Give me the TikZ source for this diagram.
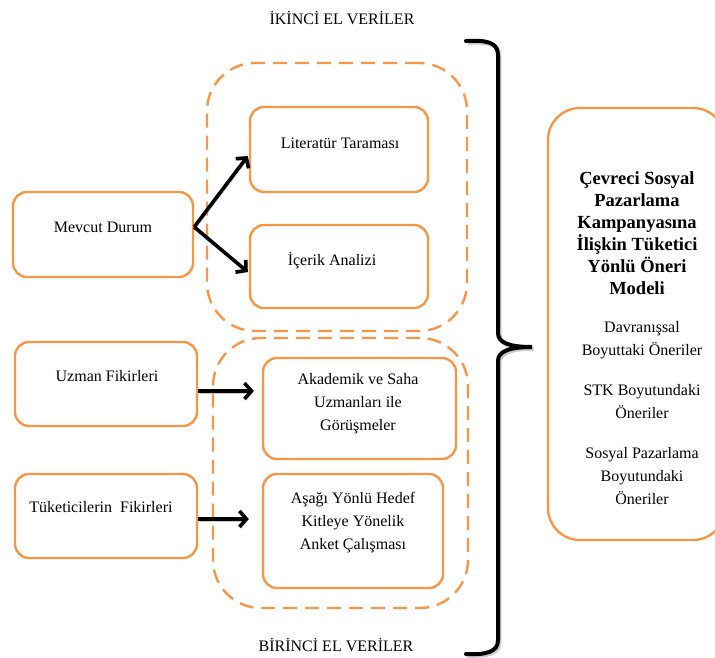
\documentclass[tikz,border=0pt]{standalone}
\usepackage{fontspec}
\setmainfont{Liberation Serif}[Ligatures=TeX]
\newfontfamily\tnr{Liberation Serif}
\usetikzlibrary{arrows.meta,calc}
\definecolor{org}{HTML}{F79646}
\tikzset{
  sbox/.style={draw=org,line width=2.4pt,rounded corners=14pt,inner sep=0pt},
  dbox/.style={draw=org,line width=2.4pt,rounded corners=48pt,dash pattern=on 14pt off 8pt,inner sep=0pt},
  rbx/.style={draw=org,line width=2.4pt,rounded corners=32pt,inner sep=0pt},
  txt/.style={align=center,inner sep=0pt,font=\tnr\fontsize{16}{23}\selectfont},
  ttl/.style={align=center,inner sep=0pt,font=\tnr\fontsize{18.5}{22}\selectfont\bfseries},
  arr/.style={line width=3.6pt,-{Straight Barb[length=7pt,width=16pt]},
    preaction={draw=black!40,opacity=.5,transform canvas={shift={(1.5pt,-1.8pt)}}}}
}
\begin{document}
\begin{tikzpicture}[x=1pt,y=-1pt]
\useasboundingbox (0,0) rectangle (715,657);
\clip (0,0) rectangle (715,657);

% headings
\node[txt] (h1) at (342,18) {İKİNCİ EL VERİLER};
\node[txt] (h2) at (336,645) {BİRİNCİ EL VERİLER};

% dashed groups
\node[dbox,minimum width=260,minimum height=268] (g1) at (337,197) {};
\node[dbox,minimum width=255,minimum height=270] (g2) at (340.5,473) {};

% left boxes
\node[sbox,minimum width=180,minimum height=85] (mev) at (103,234.5) {};
\node[txt] (mevt) at (103,227) {Mevcut Durum};
\node[sbox,minimum width=182,minimum height=84] (uzm) at (106,384) {};
\node[txt] (uzmt) at (107,376) {Uzman Fikirleri};
\node[sbox,minimum width=182,minimum height=84] (tuk) at (106,516) {};
\node[txt] (tukt) at (101,507) {Tüketicilerin~ Fikirleri};

% middle boxes
\node[sbox,minimum width=178,minimum height=85] (lit) at (339,149.5) {};
\node[txt] (litt) at (340,143) {Literatür Taraması};
\node[sbox,minimum width=178,minimum height=83] (ice) at (339,266.5) {};
\node[txt] (icet) at (332,261) {İçerik Analizi};
\node[sbox,minimum width=193,minimum height=101] (aka) at (359.5,408.5) {};
\node[txt] (akat) at (358,404) {Akademik ve Saha\\Uzmanları ile\\Görüşmeler};
\node[sbox,minimum width=180,minimum height=114] (asa) at (353,531) {};
\node[txt] (asat) at (353,523) {Aşağı Yönlü Hedef\\Kitleye Yönelik\\Anket Çalışması};

% right box
\node[rbx,minimum width=177,minimum height=432] (rb) at (636.5,324) {};
\node[ttl] (rtitle) at (637,233) {Çevreci Sosyal\\Pazarlama\\Kampanyasına\\İlişkin Tüketici\\Yönlü Öneri\\Modeli};
\node[txt] (rlist) at (642,413) {Davranışsal\\Boyuttaki Öneriler\\[17pt]STK Boyutundaki\\Öneriler\\[17pt]Sosyal Pazarlama\\Boyutundaki\\Öneriler};

% connectors
\coordinate (mv) at ($(mev.east)+(0,-7.5)$);
\coordinate (lin) at ($(lit.west)+(-1,6.5)$);
\coordinate (iin) at ($(ice.west)+(-1,5.5)$);
\coordinate (uo) at ($(uzm.east)+(0,7)$);
\coordinate (ui) at ($(aka.west)+(-8,0)$);
\coordinate (to) at ($(tuk.east)+(0,3)$);
\coordinate (ti) at ($(asa.west)+(-13,0)$);
\draw[arr] (mv) -- (lin);
\draw[arr] (mv) -- (iin);
\draw[arr] (uo) -- (ui |- uo);
\draw[arr] (to) -- (ti |- to);

% brace
\draw[black!40,opacity=.5,line width=4pt,transform canvas={shift={(1.5pt,-1.8pt)}}]
  (466,41) .. controls (486,40) and (498,42) .. (498,55) -- (498,333)
  .. controls (498,343) and (510,347) .. (532,347)
  .. controls (510,347) and (498,351) .. (498,361) -- (498,640)
  .. controls (498,652) and (486,655) .. (466,654);
\draw[line width=4pt,line cap=round]
  (466,41) .. controls (486,40) and (498,42) .. (498,55) -- (498,333)
  .. controls (498,343) and (510,347) .. (532,347)
  .. controls (510,347) and (498,351) .. (498,361) -- (498,640)
  .. controls (498,652) and (486,655) .. (466,654);
\end{tikzpicture}
\end{document}
